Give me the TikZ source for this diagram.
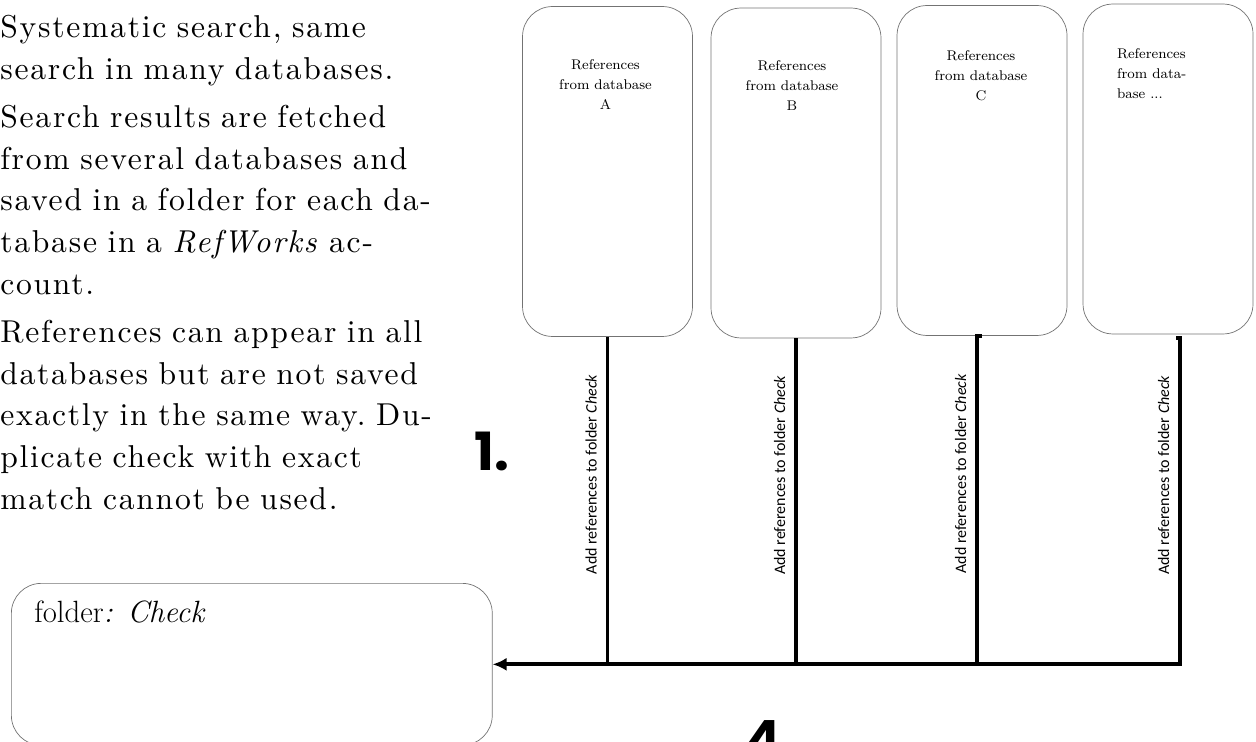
\documentclass[tikz,border=0pt]{standalone}
\usepackage{fontspec}
\usepackage{xcolor}
\usepackage{tikz}
\usetikzlibrary{arrows.meta,calc}
\newfontfamily\introfont{lmroman10-regular}[Extension=.otf, ItalicFont=lmroman10-italic, LetterSpace=5.5, WordSpace=1.4]
\newfontfamily\labelfont{Carlito}
\newfontfamily\numfont{Poppins}
\tikzstyle{dbbox} = [rectangle, rounded corners=0.6cm, minimum width=3.4cm, minimum height=6.6cm, draw=black!55, line width=0.4pt]
\tikzstyle{dbtext} = [align=center, inner sep=0pt, anchor=north, font=\fontsize{8}{11.3}\selectfont]
\tikzstyle{introtext} = [anchor=north west, inner sep=0pt, text width=11cm, align=left, font=\introfont\fontsize{18}{23.8}\selectfont\frenchspacing]
\tikzstyle{addlabel} = [rotate=90, anchor=south, inner sep=0pt, yshift=5pt, font=\labelfont\fontsize{9.1}{10}\selectfont]
\tikzstyle{stepnum} = [inner sep=0pt, font=\numfont\bfseries\fontsize{30}{30}\selectfont]
\tikzstyle{feed} = [line width=2.2pt]

\begin{document}
\begin{tikzpicture}[x=0.02cm, y=-0.02cm]
    \useasboundingbox (0,0) rectangle (1256,742);

    % Intro text
    \node (intro) [introtext] at (0,15) {Systematic search, same\\
        search in many databases.\\[3.4pt]
        Search results are fetched\\
        from several databases and\\
        saved in a folder for each da-\\
        tabase in a \textit{RefWorks} ac-\\
        count.\\[3.4pt]
        References can appear in all\\
        databases but are not saved\\
        exactly in the same way. Du-\\
        plicate check with exact\\
        match cannot be used.};

    % Database boxes
    \node (dba) [dbbox] at (607.5,171.5) {};
    \node (dbb) [dbbox] at (796,173) {};
    \node (dbc) [dbbox] at (982,170.5) {};
    \node (dbd) [dbbox] at (1168,169) {};
    \node (texta) [dbtext] at ($(dba.north)+(-2,53)$) {References\\from database\\A};
    \node (textb) [dbtext] at ($(dbb.north)+(-4,53)$) {References\\from database\\B};
    \node (textc) [dbtext] at ($(dbc.north)+(-1,45)$) {References\\from database\\C};
    \node (textd) [dbtext, anchor=north west, align=left] at ($(dbd.north west)+(34,45)$) {References\\from data-\\base ...};

    % Folder
    \node (folder) [dbbox, minimum width=9.62cm, minimum height=3.24cm, anchor=north west] at (11,583) {};
    \node (foldertext) [anchor=base west, inner sep=0pt, font=\fontsize{17.5}{20}\selectfont] at (34,622) {folder\textit{: Check}};

    % Step numbers
    \node (one) [stepnum, anchor=base west] at (474,470) {1.};
    \node (four) [stepnum, anchor=north west] at (745,720) {4};

    % Arrows
    \draw [feed] (dba.south) -- node[addlabel, pos=0.42] {Add references to folder \textit{Check}} (dba.south |- folder.east);
    \draw [feed] (dbb.south) -- node[addlabel, pos=0.42] {Add references to folder \textit{Check}} (dbb.south |- folder.east);
    \draw [feed] (dbc.south) -- ++(-5,0) coordinate (cturn) -- node[addlabel, pos=0.42] {Add references to folder \textit{Check}} (cturn |- folder.east);
    \coordinate (dturn) at ($(dbd.south)+(12,4)$);
    \draw [feed, -{Latex[length=8pt,width=7.5pt]}] ($(dbd.south)+(8,4)$) -- (dturn) -- node[addlabel, pos=0.42] {Add references to folder \textit{Check}} (dturn |- folder.east) -- (folder.east);
\end{tikzpicture}
\end{document}
